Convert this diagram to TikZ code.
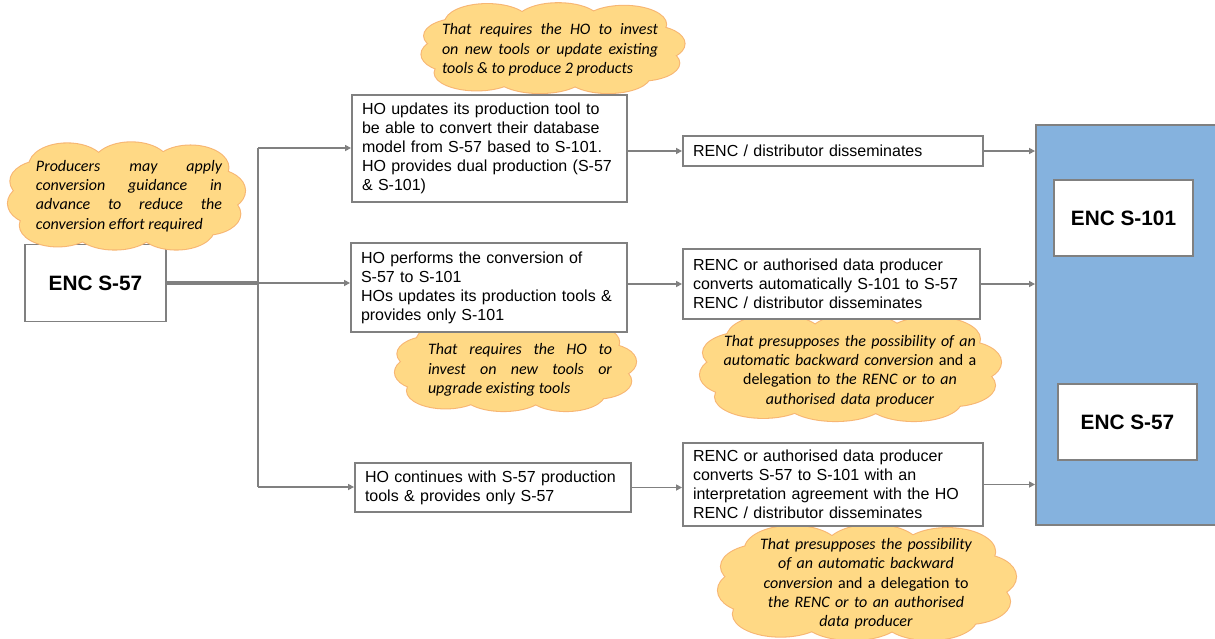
\documentclass[tikz,border=0pt]{standalone}
\usepackage{fontspec}
\setmainfont{Liberation Sans}
\newfontfamily\calibri{Carlito}
\usepackage{tikz}
\usetikzlibrary{positioning}
\usetikzlibrary{arrows.meta}
\definecolor{linegray}{RGB}{128,128,128}
\definecolor{panelblue}{RGB}{133,178,222}
\definecolor{puffill}{RGB}{255,217,133}
\definecolor{puffline}{RGB}{247,182,115}
\tikzstyle{box}=[draw=linegray,line width=1.4pt,fill=white,inner xsep=7.5pt,inner ysep=0pt,
                 align=left,font=\fontsize{12}{14.25}\selectfont]
\tikzstyle{enc}=[draw=linegray,line width=1.4pt,fill=white,minimum width=104.25pt,minimum height=57pt,
                 font=\fontsize{15.6}{18}\selectfont\bfseries]
\tikzstyle{panel}=[draw=linegray,line width=1.4pt,fill=panelblue]
\tikzstyle{note}=[inner sep=0pt,font=\fontsize{12}{14.5}\selectfont\calibri\itshape]
\tikzstyle{arr}=[-{Triangle[length=4.5pt,width=4.5pt]},draw=linegray,line width=1.3pt]
\tikzstyle{link}=[draw=linegray,line width=1.3pt]
% cloud lobes in a unit box: x/y/x radius/y radius
\def\lobes{-0.25/-0.30/0.16/0.21, 0.02/-0.31/0.16/0.21, 0.27/-0.28/0.16/0.21,
           0.37/-0.06/0.13/0.20, 0.33/0.16/0.15/0.20, 0.21/0.30/0.16/0.20,
           -0.05/0.30/0.17/0.20, -0.29/0.27/0.16/0.20, -0.37/0.06/0.13/0.20,
           -0.34/-0.15/0.15/0.20}
\newcommand\puff[4]{% centre x, centre y, width, height
  \begin{scope}[shift={(#1,#2)},xscale=#3,yscale=#4]
    \foreach \lx/\ly/\lrx/\lry in \lobes
      \draw[puffline,line width=1.6pt] (\lx,\ly) ellipse [x radius=\lrx,y radius=\lry];
    \fill[puffill] (-0.36,-0.3) rectangle (0.36,0.3);
    \foreach \lx/\ly/\lrx/\lry in \lobes
      \fill[puffill] (\lx,\ly) ellipse [x radius=\lrx,y radius=\lry];
  \end{scope}}

\begin{document}
\begin{tikzpicture}[x=0.75pt,y=-0.75pt]
  \def\tx{258}  % trunk x
  \def\ty{283}  % trunk y
  \useasboundingbox (0,0) rectangle (1215,639);

  % CLOUDS BEHIND THE BOXES
  \puff{553}{49}{263}{88}
  \puff{515.5}{367}{241}{88}
  \puff{850.5}{368.5}{301}{105}
  \puff{867}{583.5}{298}{113}

  % TARGET
  \node[panel,minimum width=141.75pt,minimum height=300pt] (tgt) at (1130.5,325) {};
  \node[enc] (n101) at (1123.5,218) {ENC S-101};
  \node[enc] (n57) at (1127.5,422) {ENC S-57};

  % SOURCE & STEPS
  \node[enc,minimum width=105.75pt,minimum height=57.75pt] (s57) at (95.5,\ty) {ENC S-57};
  \node[box,text width=191.25pt,minimum height=80.25pt] (ha) at (489.5,148.5)
    {HO updates its production tool to\\be able to convert their database\\model from S-57 based to S-101.\\HO provides dual production (S-57\\\& S-101)};
  \node[box,text width=192pt,minimum height=66.75pt] (hb) at (489,287.5)
    {HO performs the conversion of\\S-57 to S-101\\HOs updates its production tools \&\\provides only S-101};
  \node[box,text width=192pt,minimum height=36.75pt] (hc) at (493,487.5)
    {HO continues with S-57 production\\tools \& provides only S-57};
  \node[box,text width=210pt,minimum height=22.5pt] (ra) at (833,151)
    {RENC / distributor disseminates};
  \node[box,text width=207.75pt,minimum height=52.5pt] (rb) at (831.5,284)
    {RENC or authorised data producer\\converts automatically S-101 to S-57\\RENC / distributor disseminates};
  \node[box,text width=210pt,minimum height=62.25pt] (rc) at (833,484.5)
    {RENC or authorised data producer\\converts S-57 to S-101 with an\\interpretation agreement with the HO\\RENC / distributor disseminates};

  % CONNECTORS
  \coordinate (fork) at (\tx,\ty);
  \coordinate (forkup) at (\tx,148);
  \coordinate (forkdn) at (\tx,487);
  \draw[link,line width=2.6pt] (s57) -- (fork);
  \draw[link] (forkup) -- (forkdn);
  \draw[arr] (forkup) -- (forkup -| ha.west);
  \draw[arr] (fork) -- (fork -| hb.west);
  \draw[arr] (forkdn) -- (forkdn -| hc.west);
  \draw[arr] (ha.east |- ra.west) -- (ra.west);
  \draw[arr] (hb.east |- rb.west) -- (rb.west);
  \draw[arr] (hc.east) -- (hc.east -| rc.west);
  \draw[arr] (ra.east) -- (ra.east -| tgt.west);
  \draw[arr] (rb.east) -- (rb.east -| tgt.west);
  \draw[arr] (rc.east) -- (rc.east -| tgt.west);

  % CLOUD OVER THE SOURCE BOX
  \puff{126.5}{197}{237}{105}

  % CLOUD TEXTS
  \node[note,text width=139.5pt,align=justify] (c1t) at (129,196)
    {Producers may apply\linebreak conversion guidance in\linebreak advance to reduce the\linebreak conversion effort required};
  \node[note,text width=162pt,align=justify] (c2t) at (550,50)
    {That requires the HO to invest\linebreak on new tools or update existing\linebreak tools \& to produce 2 products};
  \node[note,text width=138pt,align=justify] (c3t) at (520,370)
    {That requires the HO to\linebreak invest on new tools or\linebreak upgrade existing tools};
  \node[note,text width=200pt,align=center] (c4t) at (850,371)
    {That presupposes the possibility of an\\automatic backward conversion {\upshape and a}\\{\upshape delegation} to the RENC or to an\\authorised data producer};
  \node[note,text width=180pt,align=center] (c5t) at (866,584)
    {That presupposes the possibility\\of an automatic backward\\conversion {\upshape and a delegation to}\\the RENC or to an authorised\\data producer};
\end{tikzpicture}
\end{document}
